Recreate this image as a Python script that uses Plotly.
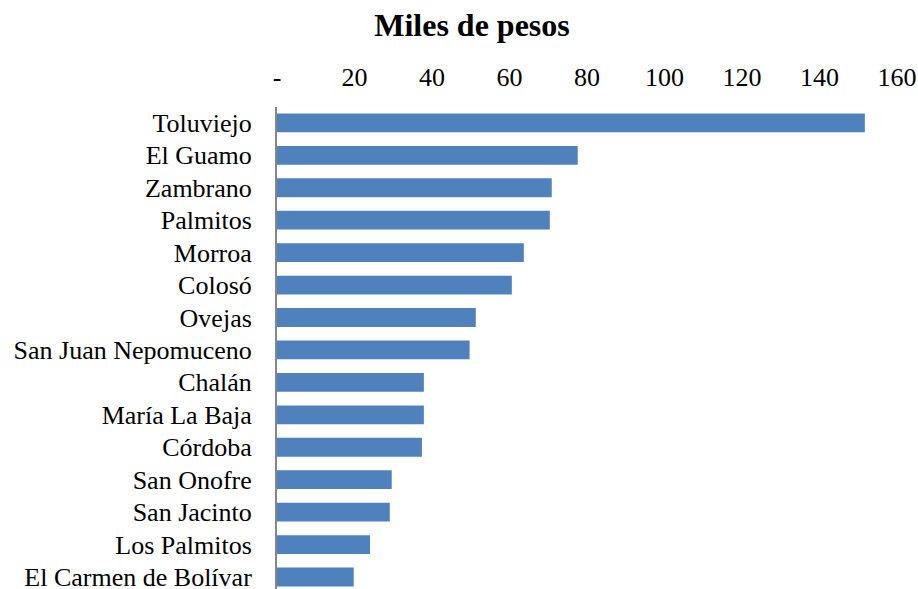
import plotly.graph_objects as go

municipios = ["Toluviejo", "El Guamo", "Zambrano", "Palmitos", "Morroa", "Colosó", "Ovejas",
              "San Juan Nepomuceno", "Chalán", "María La Baja", "Córdoba", "San Onofre",
              "San Jacinto", "Los Palmitos", "El Carmen de Bolívar"]
valores = [151.7, 77.6, 70.9, 70.4, 63.7, 60.6, 51.3, 49.7, 37.9, 37.9, 37.4, 29.6, 29.1, 24.0, 19.8]
tick_vals = [0, 20, 40, 60, 80, 100, 120, 140, 160]
tick_text = ["-", "20", "40", "60", "80", "100", "120", "140", "160"]

font_fam = "Liberation Serif, Times New Roman, serif"

W, H = 918, 589

fig = go.Figure(go.Bar(
    x=valores, y=municipios, orientation="h",
    marker=dict(color="#4F81BD", line=dict(width=0)),
    width=0.58,
))

fig.update_layout(
    width=W, height=H,
    margin=dict(l=277, r=21, t=107, b=0),
    paper_bgcolor="white", plot_bgcolor="white",
    font=dict(family=font_fam, size=26, color="black"),
    title=dict(text="<b>Miles de pesos</b>", x=472/W, xanchor="center",
               y=1 - 25/H, yanchor="middle", font=dict(size=32, family=font_fam)),
    showlegend=False,
)
fig.update_xaxes(side="top", range=[0, 160], tickvals=tick_vals, ticktext=tick_text,
                 showgrid=False, zeroline=False, showline=False, ticks="",
                 ticklabelstandoff=15, automargin=False)
fig.update_yaxes(range=[14.37, -0.49], showgrid=False, zeroline=False,
                 showline=True, linecolor="#868686", linewidth=2, ticks="",
                 ticklabelstandoff=18, automargin=False)

fig.write_html("out.html", config={"displayModeBar": False},
               post_script="document.body.style.margin='0';document.body.style.overflow='hidden';")
